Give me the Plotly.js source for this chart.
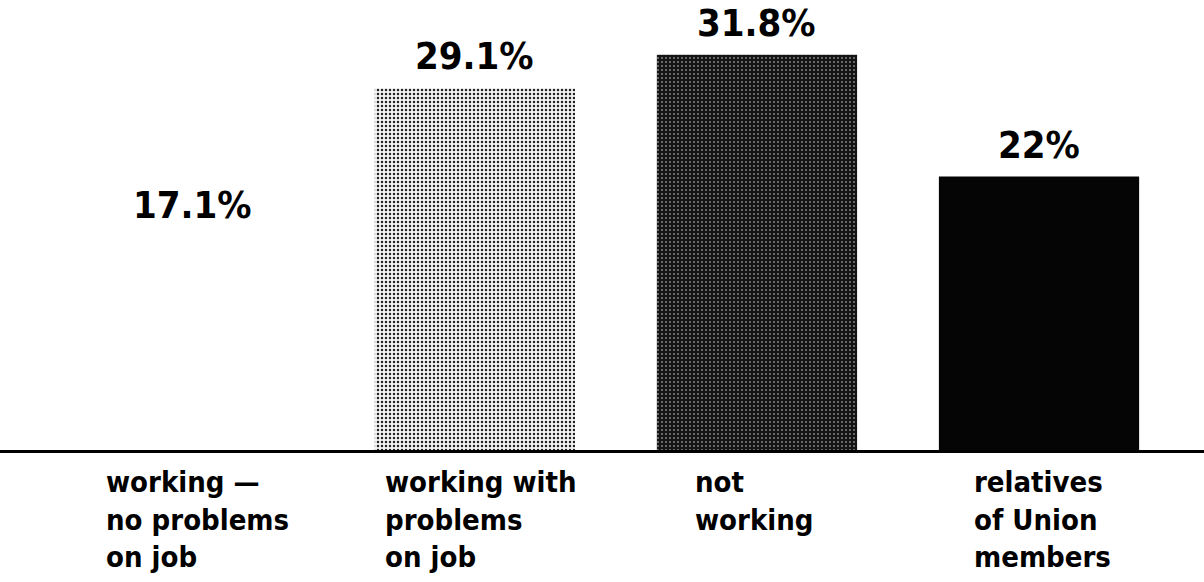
<!DOCTYPE html>
<html>
<head>
<meta charset="utf-8">
<script src="https://cdn.plot.ly/plotly-3.0.1.min.js"></script>
<style>html,body{margin:0;padding:0;background:#fff;}#chart{width:1204px;height:582px;}</style>
</head>
<body>
<div id="chart"></div>
<script>
// ---- data ----
var categories = ["working_no_problems", "working_with_problems", "not_working", "relatives"];
var categoryLabels = [
  "working \u2014<br>no problems<br>on job",
  "working with<br>problems<br>on job",
  "not<br>working",
  "relatives<br>of Union<br>members"
];
var values = [17.1, 29.1, 31.8, 22];
var valueLabels = ["17.1%", "29.1%", "31.8%", "22%"];

// ---- styles ----
var FONT = "DejaVu Sans Condensed, DejaVu Sans, Liberation Sans, sans-serif";
var barStyles = [
  { color: "#ffffff", pattern: { shape: "" } },
  { color: "#ffffff", pattern: { shape: ".", fgcolor: "#222222", bgcolor: "#f4f4f4", size: 4, solidity: 0.3, fillmode: "replace" } },
  { color: "#141414", pattern: { shape: ".", fgcolor: "#8c8c8c", bgcolor: "#141414", size: 4, solidity: 0.18, fillmode: "replace" } },
  { color: "#050505", pattern: { shape: "" } }
];
var labelXShift = [-89, -92, -64, -67];

var traces = categories.map(function (c, i) {
  return {
    type: "bar",
    name: c,
    x: [i],
    y: [values[i]],
    width: 0.71,
    marker: { color: barStyles[i].color, line: { width: 0 }, pattern: barStyles[i].pattern },
    hoverinfo: "skip"
  };
});

var annotations = [];
categories.forEach(function (c, i) {
  annotations.push({
    x: i, y: values[i], xref: "x", yref: "y",
    text: valueLabels[i], showarrow: false,
    xanchor: "center", yanchor: "bottom", yshift: 8,
    font: { family: FONT, size: 38, color: "#000", weight: "bold" }
  });
  annotations.push({
    x: i, y: 0, xref: "x", yref: "y",
    text: categoryLabels[i], showarrow: false,
    xanchor: "left", yanchor: "top", align: "left",
    xshift: labelXShift[i], yshift: -13,
    font: { family: FONT, size: 29, color: "#000", weight: "bold" }
  });
});

var layout = {
  width: 1204, height: 582,
  margin: { l: 0, r: 0, t: 0, b: 132 },
  paper_bgcolor: "#ffffff", plot_bgcolor: "#ffffff",
  showlegend: false,
  barmode: "overlay",
  xaxis: {
    range: [-0.684, 3.585],
    showgrid: false, zeroline: false,
    showticklabels: false, ticks: "",
    showline: true, linecolor: "#000", linewidth: 3,
    fixedrange: true
  },
  yaxis: {
    range: [0, 36.2],
    visible: false, showgrid: false, zeroline: false,
    fixedrange: true
  },
  annotations: annotations
};

Plotly.newPlot("chart", traces, layout, { displayModeBar: false, staticPlot: true });
</script>
</body>
</html>
